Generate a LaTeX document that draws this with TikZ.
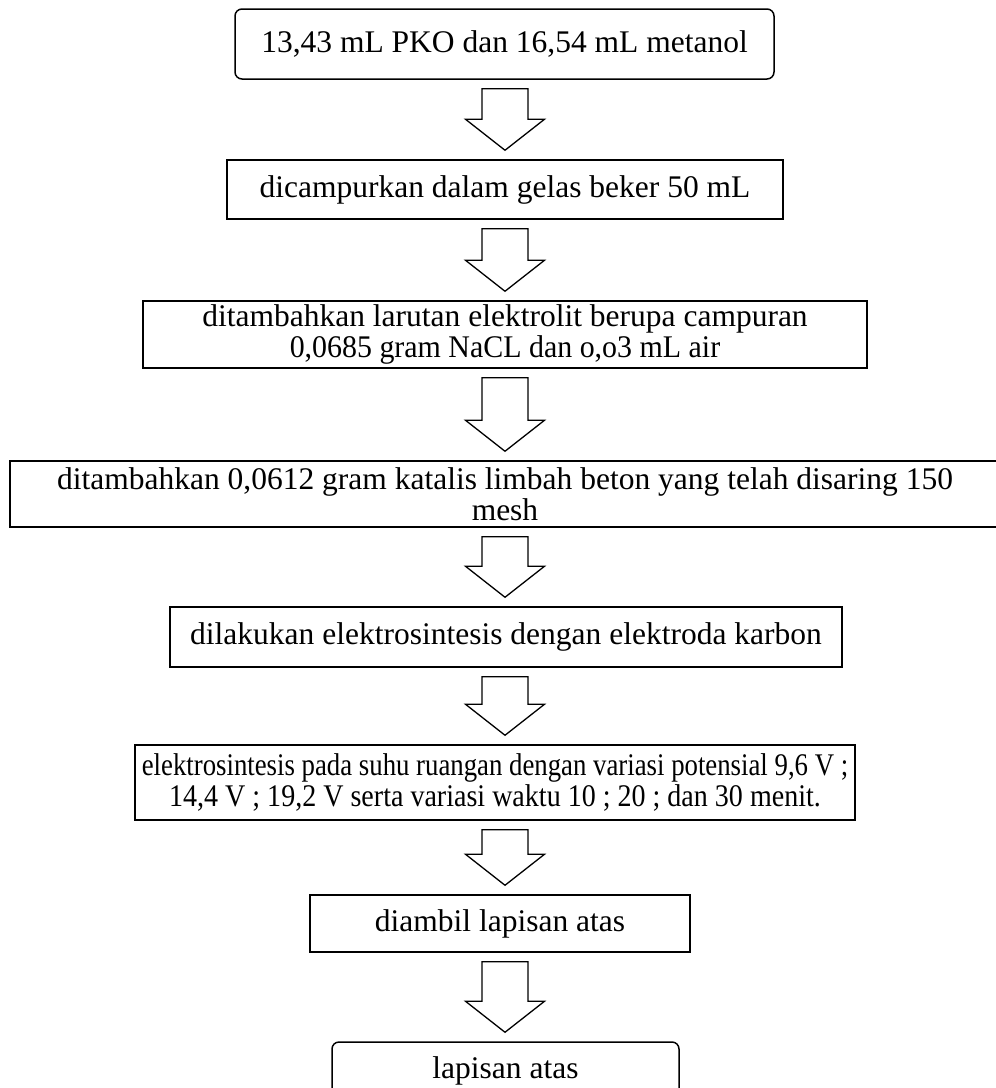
\documentclass[tikz,border=0pt]{standalone}
\usepackage{fontspec}
\usepackage{graphicx}
\setmainfont{Liberation Serif}
\usetikzlibrary{calc}
\newcommand{\blockarrow}[2]{%
  \draw[barrow] let \p1=(#1.south), \p2=(#2.north), \p3=(axis) in
    (\x3-23pt,\y1-9pt) -- (\x3+23pt,\y1-9pt) -- (\x3+23pt,\y2+40pt) --
    (\x3+39.5pt,\y2+40pt) -- (\x3,\y2+9pt) -- (\x3-39.5pt,\y2+40pt) --
    (\x3-23pt,\y2+40pt) -- cycle;}
\newcommand{\narrow}[2]{\scalebox{#1}[1]{#2}}
\begin{document}
\begin{tikzpicture}[x=1pt,y=-1pt,
  box/.style={draw, line width=1.5pt, align=center, inner sep=0pt,
    font=\fontsize{31.5}{31}\selectfont},
  rbox/.style={box, rounded corners=7pt},
  barrow/.style={draw, line width=1.3pt, line join=miter, fill=white}]
\useasboundingbox (0,0) rectangle (996,1088);
\coordinate (axis) at (505,0);
\node[rbox, minimum width=539pt, minimum height=70pt] (b1) at (504.5,44)
  {13,43 mL PKO dan 16,54 mL metanol};
\node[box, minimum width=556pt, minimum height=59pt] (b2) at (505,189.5)
  {dicampurkan dalam gelas beker 50 mL};
\node[box, minimum width=724pt, minimum height=67pt] (b3) at (505,334.5)
  {ditambahkan larutan elektrolit berupa campuran\\\narrow{0.95}{0,0685 gram NaCL dan o,o3 mL air}};
\node[box, minimum width=990pt, minimum height=66pt] (b4) at (505,494)
  {ditambahkan 0,0612 gram katalis limbah beton yang telah disaring 150\\mesh};
\node[box, minimum width=672pt, minimum height=60pt] (b5) at (506,637)
  {dilakukan elektrosintesis dengan elektroda karbon};
\node[box, minimum width=720pt, minimum height=75pt] (b6) at (495,782.5)
  {\narrow{0.85}{elektrosintesis pada suhu ruangan dengan variasi potensial 9,6 V ;}\\\narrow{0.89}{14,4 V ; 19,2 V serta variasi waktu 10 ; 20 ; dan 30 menit.}};
\node[box, minimum width=380pt, minimum height=57pt] (b7) at (500,923.5)
  {diambil lapisan atas};
\node[rbox, minimum width=347pt, minimum height=58pt] (b8) at (505.5,1071)
  {lapisan atas};
\blockarrow{b1}{b2}
\blockarrow{b2}{b3}
\blockarrow{b3}{b4}
\blockarrow{b4}{b5}
\blockarrow{b5}{b6}
\blockarrow{b6}{b7}
\blockarrow{b7}{b8}
\end{tikzpicture}
\end{document}
